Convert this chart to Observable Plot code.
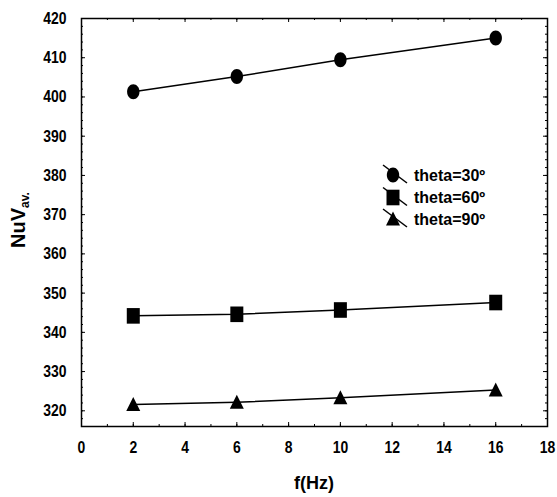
<!DOCTYPE html>
<html>
<head>
<meta charset="utf-8">
<script src="https://cdn.jsdelivr.net/npm/d3@7"></script>
<script src="https://cdn.jsdelivr.net/npm/@observablehq/plot@0.6"></script>
<style>
  body { margin: 0; background: #fff; }
  #wrap { position: relative; width: 557px; height: 497px; }
  #legend { position: absolute; left: 0; top: 0; pointer-events: none; }
</style>
</head>
<body>
<div id="wrap"></div>
<script>
// ---- data ----
const freq = [2, 6, 10, 16];
const nu30 = [401.3, 405.2, 409.5, 415.0];
const nu60 = [344.2, 344.6, 345.7, 347.6];
const nu90 = [321.6, 322.2, 323.3, 325.3];
const seriesNames = ["theta=30º", "theta=60º", "theta=90º"];
const xTicks = [0, 2, 4, 6, 8, 10, 12, 14, 16, 18];
const yTicks = [320, 330, 340, 350, 360, 370, 380, 390, 400, 410, 420];
const xLabel = "f(Hz)";
const yLabelMain = "NuV";
const yLabelSub = "av.";

// ---- layout ----
const W = 557, H = 497;
const mL = 81, mR = 10, mT = 18, mB = 71;
const PH = H - mT - mB, PW = W - mL - mR;
const FONT = '"Liberation Sans", Arial, sans-serif';

// custom symbols (slightly tall, like the reference)
const K = 0.5523;
const ellipseSym = { draw(p) { const rx = 6.2, ry = 7.5;
  p.moveTo(rx, 0);
  p.bezierCurveTo(rx, ry*K, rx*K, ry, 0, ry);
  p.bezierCurveTo(-rx*K, ry, -rx, ry*K, -rx, 0);
  p.bezierCurveTo(-rx, -ry*K, -rx*K, -ry, 0, -ry);
  p.bezierCurveTo(rx*K, -ry, rx, -ry*K, rx, 0);
  p.closePath(); } };
const squareSym = { draw(p) { const w = 6.5, h = 7.8;
  p.moveTo(-w, -h); p.lineTo(w, -h); p.lineTo(w, h); p.lineTo(-w, h); p.closePath(); } };
const triSym = { draw(p) { const w = 7, h = 7.5;
  p.moveTo(0, -h); p.lineTo(w, h - 1); p.lineTo(-w, h - 1); p.closePath(); } };
const symbols = [ellipseSym, squareSym, triSym];

const rows = [];
[nu30, nu60, nu90].forEach((vals, si) => {
  vals.forEach((v, i) => rows.push({ f: freq[i], nu: v, s: seriesNames[si], si }));
});

const xMinor = d3.range(0, 18.01, 1);
const yMinor = d3.range(316, 420.01, 2);

const chart = Plot.plot({
  width: W, height: H,
  marginLeft: mL, marginRight: mR, marginTop: mT, marginBottom: mB,
  x: { domain: [0, 18], label: null },
  y: { domain: [316, 420], label: null },
  style: { fontFamily: FONT, fontSize: "17px", fontWeight: "bold", color: "black", background: "white" },
  marks: [
    // inward ticks, bottom & top
    Plot.tickX(xMinor, { x: d => d, insetTop: PH - 2, stroke: "black" }),
    Plot.tickX(xTicks, { x: d => d, insetTop: PH - 4, stroke: "black" }),
    Plot.tickX(xMinor, { x: d => d, insetBottom: PH - 2, stroke: "black" }),
    Plot.tickX(xTicks, { x: d => d, insetBottom: PH - 4, stroke: "black" }),
    // inward ticks, left & right
    Plot.tickY(yMinor, { y: d => d, insetRight: PW - 2, stroke: "black" }),
    Plot.tickY(yTicks, { y: d => d, insetRight: PW - 4, stroke: "black" }),
    Plot.tickY(yMinor, { y: d => d, insetLeft: PW - 2, stroke: "black" }),
    Plot.tickY(yTicks, { y: d => d, insetLeft: PW - 4, stroke: "black" }),
    Plot.axisX({ ticks: xTicks, tickSize: 0, tickPadding: 14, tickFormat: d => d, fontSize: 17 }),
    Plot.axisY({ ticks: yTicks, tickSize: 0, tickPadding: 15, tickFormat: d => d, fontSize: 17 }),
    Plot.frame({ stroke: "black", strokeWidth: 1.5 }),
    Plot.line(rows, { x: "f", y: "nu", z: "s", stroke: "black", strokeWidth: 1.5 }),
    ...symbols.map((sym, si) =>
      Plot.dot(rows.filter(r => r.si === si), { x: "f", y: "nu", symbol: sym, fill: "black", stroke: "none", r: 6 }))
  ]
});

document.getElementById("wrap").appendChild(chart);

const svg = d3.select(chart);
// condense tick labels (reference uses a narrow bold face)
svg.selectAll('g[aria-label="x-axis tick label"] text, g[aria-label="y-axis tick label"] text').each(function () {
  const len = this.getComputedTextLength();
  if (len > 0) {
    this.setAttribute("textLength", (len * 0.82).toFixed(2));
    this.setAttribute("lengthAdjust", "spacingAndGlyphs");
  }
});

// y label with subscript
const yl = svg.append("text")
  .attr("transform", `translate(25,220) rotate(-90)`)
  .attr("text-anchor", "middle")
  .attr("font-family", FONT).attr("font-weight", "bold").attr("font-size", 20).attr("fill", "black");
yl.append("tspan").text(yLabelMain);
yl.append("tspan").attr("font-size", 12).attr("dy", 4).text(yLabelSub);

// x label
svg.append("text")
  .attr("x", mL + PW / 2).attr("y", 489)
  .attr("text-anchor", "middle")
  .attr("font-family", FONT).attr("font-weight", "bold").attr("font-size", 18).attr("fill", "black")
  .text(xLabel);

// legend (overlay)
const leg = d3.select("#wrap").append("svg").attr("id", "legend").attr("width", W).attr("height", H);
const legY = [175, 197.5, 219];
seriesNames.forEach((name, i) => {
  const g = leg.append("g").attr("transform", `translate(393,${legY[i]})`);
  const pp = d3.path(); symbols[i].draw(pp);
  g.append("path").attr("d", pp.toString()).attr("fill", "black");
  g.append("line").attr("x1", -10).attr("y1", -10).attr("x2", 14).attr("y2", 8).attr("stroke", "black").attr("stroke-width", 1.5);
  g.append("text").attr("x", 21).attr("y", 5.5)
    .attr("font-family", FONT).attr("font-weight", "bold").attr("font-size", 16).attr("fill", "black")
    .text(name);
});
</script>
</body>
</html>
